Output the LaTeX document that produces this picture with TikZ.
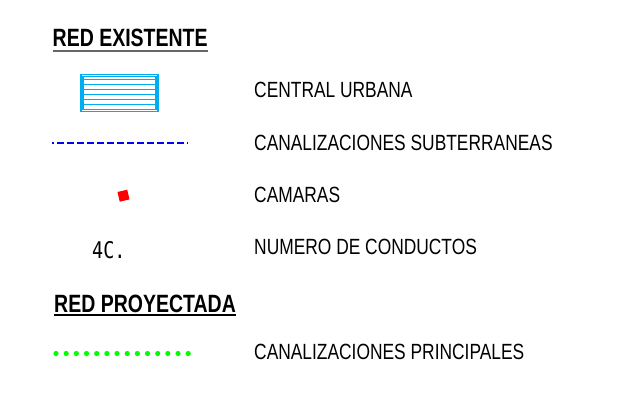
\documentclass[tikz,border=0pt]{standalone}
\usepackage{fontspec}
\usepackage{tikz}
\usetikzlibrary{positioning}
\newfontfamily\headfont{Liberation Sans}[FakeStretch=0.78]
\newfontfamily\labfont{Liberation Sans}[FakeStretch=0.79]
\newfontfamily\codefont{DejaVu Sans Mono}[FakeStretch=0.8]

\begin{document}
\begin{tikzpicture}[x=1pt,y=-1pt]
		\tikzstyle{head}=[anchor=base west, inner sep=0pt, font=\headfont\bfseries\fontsize{25}{28}\selectfont]
		\tikzstyle{lab}=[anchor=base west, inner sep=0pt, font=\labfont\fontsize{22}{25}\selectfont]
		\tikzstyle{uline}=[line width=2pt]
		\tikzstyle{urb}=[draw=cyan, line width=1.2pt]
		\tikzstyle{subte}=[blue, line width=2pt, dash pattern=on 7pt off 3pt, dash phase=5pt]
		\tikzstyle{camara}=[rectangle, fill=red, inner sep=0pt, minimum size=10pt, rotate=13]
		\tikzstyle{gdot}=[fill=green]
		\useasboundingbox (0,0) rectangle (631,392);
		% red existente
		\node[head] (redex) at (52.5,46.5) {RED EXISTENTE};
		\draw[uline, black!60] ([yshift=-4pt]redex.base west) -- ([yshift=-4pt]redex.base east);
		\node[lab] (central) at (254,97.5) {CENTRAL URBANA};
		\node[lab] (subt) at (254,150) {CANALIZACIONES SUBTERRANEAS};
		\node[lab] (camaras) at (254,202.5) {CAMARAS};
		\node[lab] (numcond) at (254,254.5) {NUMERO DE CONDUCTOS};
		\node[rectangle, urb, minimum width=77pt, minimum height=37pt] (urbana) at (119.5,93) {};
		\draw[urb] (83,76.5) rectangle (156,109.5);
		\foreach \y in {79.5,84,89,94,99,104}
			\draw[urb, line width=1pt] (83,\y) -- (156,\y);
		\coordinate (subA) at (52,142.5);
		\coordinate (subB) at (188,142.5);
		\draw[subte] (subA) -- (subB);
		\node[camara] (cam) at (123.5,195.7) {};
		\node[anchor=base west, inner sep=0pt, font=\codefont\fontsize{23}{26}\selectfont] (cond) at (92,258) {4C.};
		% red proyectada
		\node[head] (redpro) at (54,312) {RED PROYECTADA};
		\draw[uline, black] ([yshift=-3pt]redpro.base west) -- ([yshift=-3pt]redpro.base east);
		\node[lab] (princ) at (254,359.5) {CANALIZACIONES PRINCIPALES};
		\foreach \i in {0,...,13}
			\fill[gdot] (56+\i*10.17,353.5) circle (2.6);
\end{tikzpicture}
\end{document}
